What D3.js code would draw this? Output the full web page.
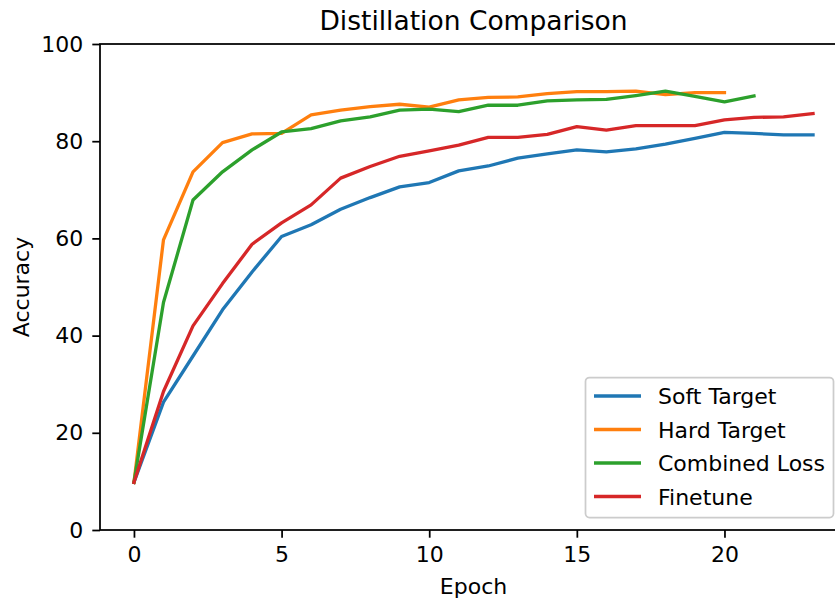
<!DOCTYPE html>
<html lang="en">

<head>
  <meta charset="UTF-8">
  <title>Distillation Comparison</title>
  <script src="https://d3js.org/d3.v7.min.js"></script>
  <style>
    body { margin: 0; background: #fff; }
    text { font-family: "DejaVu Sans", sans-serif; fill: #000; }
  </style>
</head>

<body>
  <svg id="chart" width="835" height="599"></svg>
  <script>
    // accuracy per epoch
    let softTarget = [9.8, 26.3, 35.8, 45.3, 53.1, 60.4, 62.8, 66.0, 68.4, 70.6, 71.5, 73.9, 74.9, 76.5, 77.4, 78.2, 77.8, 78.4, 79.4, 80.6, 81.8, 81.6, 81.3, 81.3];
    let hardTarget = [9.8, 59.7, 73.7, 79.7, 81.5, 81.6, 85.4, 86.4, 87.1, 87.6, 87.0, 88.5, 89.0, 89.1, 89.8, 90.2, 90.2, 90.3, 89.6, 90.0, 90.0];
    let combinedLoss = [9.8, 46.8, 67.9, 73.7, 78.2, 81.9, 82.6, 84.2, 85.0, 86.4, 86.6, 86.1, 87.4, 87.4, 88.3, 88.5, 88.6, 89.4, 90.3, 89.2, 88.1, 89.3];
    let finetune = [9.8, 28.5, 42.0, 50.7, 58.8, 63.2, 66.9, 72.4, 74.8, 76.9, 78.0, 79.2, 80.8, 80.8, 81.4, 83.0, 82.3, 83.2, 83.2, 83.2, 84.4, 84.9, 85.0, 85.7];

    let seriesNames = ['Soft Target', 'Hard Target', 'Combined Loss', 'Finetune'];
    let seriesColors = ['#1f77b4', '#ff7f0e', '#2ca02c', '#d62728'];
    let xTicks = [0, 5, 10, 15, 20];
    let yTicks = [0, 20, 40, 60, 80, 100];

    let series = [softTarget, hardTarget, combinedLoss, finetune];

    let plotLeft = 100, plotRight = 847, plotTop = 44, plotBottom = 530;
    let svg = d3.select('#chart');

    let x = d3.scaleLinear().domain([-1.15, 24.15]).range([plotLeft, plotRight]);
    let y = d3.scaleLinear().domain([0, 100]).range([plotBottom, plotTop]);

    // axes
    let axisX = d3.axisBottom(x).tickValues(xTicks).tickSize(7.7).tickPadding(9).tickSizeOuter(0);
    let axisY = d3.axisLeft(y).tickValues(yTicks).tickSize(7.7).tickPadding(9).tickSizeOuter(0);

    let gx = svg.append('g').attr('transform', 'translate(0,' + plotBottom + ')').call(axisX);
    let gy = svg.append('g').attr('transform', 'translate(' + plotLeft + ',0)').call(axisY);
    [gx, gy].forEach(function (g) {
      g.select('.domain').remove();
      g.selectAll('line').attr('stroke', '#000').attr('stroke-width', 1.75);
      g.selectAll('text').attr('font-size', 22).attr('font-family', 'DejaVu Sans').attr('fill', '#000');
    });

    // spines
    svg.append('rect')
      .attr('x', plotLeft).attr('y', plotTop)
      .attr('width', plotRight - plotLeft).attr('height', plotBottom - plotTop)
      .attr('fill', 'none').attr('stroke', '#000').attr('stroke-width', 1.75);

    // lines
    let line = d3.line()
      .x(function (d, i) { return x(i); })
      .y(function (d) { return y(d); });

    svg.append('g').selectAll('path')
      .data(series)
      .join('path')
      .attr('d', line)
      .attr('fill', 'none')
      .attr('stroke', function (d, i) { return seriesColors[i]; })
      .attr('stroke-width', 3.3)
      .attr('stroke-linejoin', 'round')
      .attr('stroke-linecap', 'square');

    // titles
    svg.append('text')
      .attr('x', (plotLeft + plotRight) / 2).attr('y', 30)
      .attr('text-anchor', 'middle').attr('font-size', 26.5)
      .text('Distillation Comparison');
    svg.append('text')
      .attr('x', (plotLeft + plotRight) / 2).attr('y', 594)
      .attr('text-anchor', 'middle').attr('font-size', 22)
      .text('Epoch');
    svg.append('text')
      .attr('transform', 'translate(29,' + ((plotTop + plotBottom) / 2) + ') rotate(-90)')
      .attr('text-anchor', 'middle').attr('font-size', 22)
      .text('Accuracy');

    // legend
    let legend = svg.append('g');
    legend.append('rect')
      .attr('x', 585.5).attr('y', 377.5).attr('width', 248).attr('height', 140)
      .attr('rx', 4)
      .attr('fill', '#fff').attr('fill-opacity', 0.8)
      .attr('stroke', '#ccc').attr('stroke-width', 1.75);

    let rows = legend.selectAll('g.row')
      .data(seriesNames)
      .join('g')
      .attr('class', 'row')
      .attr('transform', function (d, i) { return 'translate(0,' + (396 + i * 33.5) + ')'; });
    rows.append('line')
      .attr('x1', 594).attr('x2', 641)
      .attr('stroke', function (d, i) { return seriesColors[i]; })
      .attr('stroke-width', 3.3);
    rows.append('text')
      .attr('x', 658).attr('y', 8)
      .attr('font-size', 22)
      .text(function (d) { return d; });
  </script>
</body>

</html>
